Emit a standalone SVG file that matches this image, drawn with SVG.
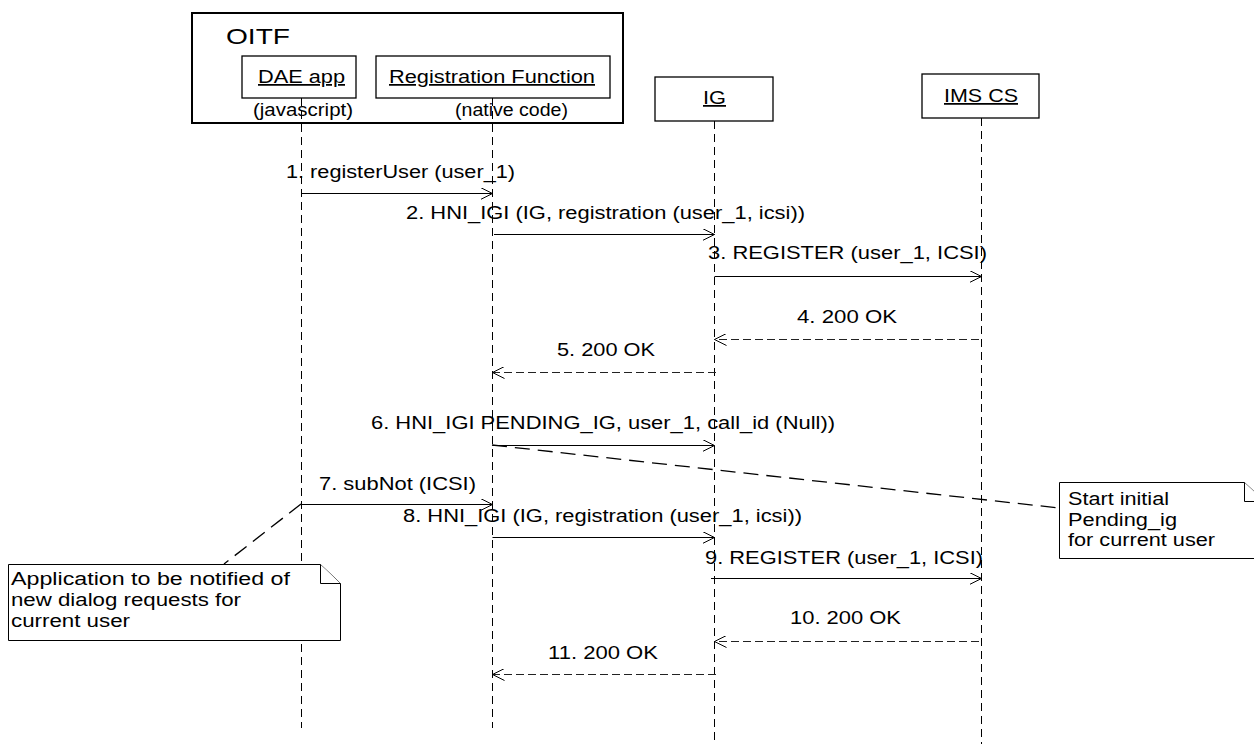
<svg xmlns="http://www.w3.org/2000/svg" width="1254" height="744" viewBox="0 0 1254 744">
<defs>
<style>
text{font-family:"Liberation Sans",Arial,sans-serif;font-size:17.5px;fill:#000}
.box{fill:#fff;stroke:#000;stroke-width:1.3}
.life{stroke:#000;stroke-width:1;stroke-dasharray:8 5;fill:none}
.msg{stroke:#000;stroke-width:1;fill:none}
.ret{stroke:#222;stroke-width:1;stroke-dasharray:8 4;fill:none}
.anchor{stroke:#000;stroke-width:1.3;stroke-dasharray:15 8;fill:none}
.note{fill:#fff;stroke:#000;stroke-width:1}
</style>
<marker id="open" markerWidth="14" markerHeight="12" refX="12" refY="6" orient="auto" markerUnits="userSpaceOnUse">
<path d="M0,0 L12,6 L0,12" fill="none" stroke="#000" stroke-width="1"/>
</marker>
</defs>
<rect width="1254" height="744" fill="#fff"/>

<g id="lifelines">
<line class="life" x1="301.5" y1="98" x2="301.5" y2="728"/>
<line class="life" x1="492.5" y1="98" x2="492.5" y2="728"/>
<line class="life" x1="714.5" y1="121" x2="714.5" y2="744"/>
<line class="life" x1="981.5" y1="118" x2="981.5" y2="744"/>
</g>

<g id="oitf">
<rect x="192" y="13" width="431" height="110" fill="none" stroke="#000" stroke-width="2"/>
<text x="226" y="44" style="font-size:22px" textLength="64" lengthAdjust="spacingAndGlyphs">OITF</text>
</g>
<g id="dae">
<rect class="box" x="242" y="56" width="114" height="42"/>
<text x="258" y="83" textLength="87" lengthAdjust="spacingAndGlyphs" text-decoration="underline">DAE app</text>
<text x="253" y="116" textLength="100" lengthAdjust="spacingAndGlyphs">(javascript)</text>
</g>
<g id="rf">
<rect class="box" x="376" y="56" width="234" height="42"/>
<text x="389" y="83" textLength="206" lengthAdjust="spacingAndGlyphs" text-decoration="underline">Registration Function</text>
<text x="455" y="116" textLength="113" lengthAdjust="spacingAndGlyphs">(native code)</text>
</g>
<g id="ig">
<rect class="box" x="655" y="77" width="118" height="44"/>
<text x="703" y="104" textLength="23" lengthAdjust="spacingAndGlyphs" text-decoration="underline">IG</text>
</g>
<g id="imscs">
<rect class="box" x="922" y="74" width="117" height="44"/>
<text x="944" y="102" textLength="74" lengthAdjust="spacingAndGlyphs" text-decoration="underline">IMS CS</text>
</g>

<g id="connectors">
<line class="msg" x1="301.5" y1="193.5" x2="492.5" y2="193.5" marker-end="url(#open)"/>
<line class="msg" x1="494" y1="234.5" x2="714.5" y2="234.5" marker-end="url(#open)"/>
<line class="msg" x1="714.5" y1="276.5" x2="981.5" y2="276.5" marker-end="url(#open)"/>
<line class="ret" x1="979" y1="339.5" x2="714.5" y2="339.5" marker-end="url(#open)"/>
<line class="ret" x1="716" y1="372.5" x2="492.5" y2="372.5" marker-end="url(#open)"/>
<line class="msg" x1="492.5" y1="445.5" x2="714.5" y2="445.5" marker-end="url(#open)"/>
<line class="msg" x1="301.5" y1="504.5" x2="492.5" y2="504.5" marker-end="url(#open)"/>
<line class="msg" x1="492.5" y1="537.5" x2="714.5" y2="537.5" marker-end="url(#open)"/>
<line class="msg" x1="711" y1="578.5" x2="981.5" y2="578.5" marker-end="url(#open)"/>
<line class="ret" x1="979" y1="641.5" x2="714.5" y2="641.5" marker-end="url(#open)"/>
<line class="ret" x1="716" y1="674.5" x2="492.5" y2="674.5" marker-end="url(#open)"/>
<line class="anchor" x1="492" y1="445" x2="1059" y2="508"/>
<line class="anchor" x1="301" y1="504" x2="224" y2="564"/>
</g>

<g id="labels">
<text x="286" y="178" textLength="229" lengthAdjust="spacingAndGlyphs">1. registerUser (user_1)</text>
<text x="406" y="219" textLength="399" lengthAdjust="spacingAndGlyphs">2. HNI_IGI (IG, registration (user_1, icsi))</text>
<text x="708" y="259" textLength="279" lengthAdjust="spacingAndGlyphs">3. REGISTER (user_1, ICSI)</text>
<text x="797" y="323" textLength="100" lengthAdjust="spacingAndGlyphs">4. 200 OK</text>
<text x="557" y="356" textLength="98" lengthAdjust="spacingAndGlyphs">5. 200 OK</text>
<text x="371" y="429" textLength="464" lengthAdjust="spacingAndGlyphs">6. HNI_IGI PENDING_IG, user_1, call_id (Null))</text>
<text x="319" y="490" textLength="157" lengthAdjust="spacingAndGlyphs">7. subNot (ICSI)</text>
<text x="403" y="522" textLength="399" lengthAdjust="spacingAndGlyphs">8. HNI_IGI (IG, registration (user_1, icsi))</text>
<text x="705" y="564" textLength="278" lengthAdjust="spacingAndGlyphs">9. REGISTER (user_1, ICSI)</text>
<text x="790" y="624" textLength="111" lengthAdjust="spacingAndGlyphs">10. 200 OK</text>
<text x="548" y="659" textLength="110" lengthAdjust="spacingAndGlyphs">11. 200 OK</text>
</g>

<g id="note-app">
<path class="note" d="M8.5,564.5 H320.5 L340.5,583.5 V640.5 H8.5 Z"/>
<path class="note" d="M320.5,564.5 V583.5 H340.5"/>
<text x="11" y="585" textLength="279" lengthAdjust="spacingAndGlyphs">Application to be notified of</text>
<text x="11" y="606" textLength="230" lengthAdjust="spacingAndGlyphs">new dialog requests for</text>
<text x="11" y="627" textLength="119" lengthAdjust="spacingAndGlyphs">current user</text>
</g>
<g id="note-pending">
<path class="note" d="M1059.5,482.5 H1244.5 L1264.5,501.5 V558.5 H1059.5 Z"/>
<path class="note" d="M1244.5,482.5 V501.5 H1264.5"/>
<text x="1068" y="505" textLength="101" lengthAdjust="spacingAndGlyphs">Start initial</text>
<text x="1068" y="526" textLength="109" lengthAdjust="spacingAndGlyphs">Pending_ig</text>
<text x="1068" y="546" textLength="147" lengthAdjust="spacingAndGlyphs">for current user</text>
</g>
</svg>
